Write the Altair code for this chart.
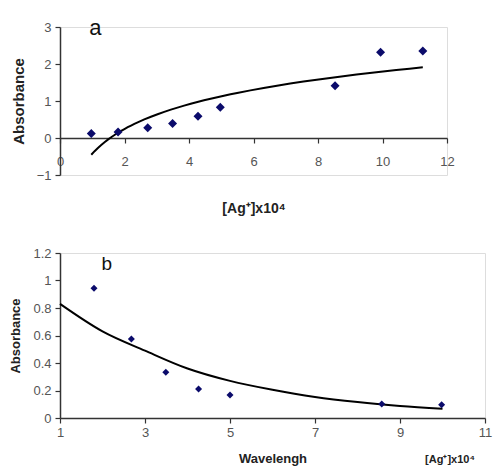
import altair as alt
import pandas as pd

# Panel a: [Ag+]x10^4 vs absorbance
a_x = [0.97, 1.8, 2.72, 3.49, 4.28, 4.97, 8.53, 9.94, 11.25]
a_y = [0.12, 0.16, 0.28, 0.39, 0.59, 0.83, 1.41, 2.32, 2.35]

# Panel b: points and exponential trend line
b_x = [1.8, 2.68, 3.49, 4.26, 5.0, 8.57, 9.98]
b_y = [0.943, 0.575, 0.333, 0.211, 0.168, 0.101, 0.097]
b_curve_x = [1, 2, 3, 4, 5, 6, 7, 8, 9, 10]
b_curve_y = [0.83, 0.63, 0.49, 0.36, 0.27, 0.205, 0.153, 0.116, 0.088, 0.067]

a_ticks_x = [0, 2, 4, 6, 8, 10, 12]
a_ticks_y = [-1, 0, 1, 2, 3]
b_ticks_x = [1, 3, 5, 7, 9, 11]
b_ticks_y = [0, 0.2, 0.4, 0.6, 0.8, 1, 1.2]

panel_labels = ["a", "b"]

FONT = "Liberation Sans"
PT = "#0b0b6b"
HA, HB = 148, 165

df_a = pd.DataFrame({"x": a_x, "y": a_y})
df_b = pd.DataFrame({"x": b_x, "y": b_y})
df_bc = pd.DataFrame({"x": b_curve_x, "y": b_curve_y})

axis_common = dict(
    grid=False, domainColor="#333333", tickColor="#333333", labelColor="#555555",
    labelFont=FONT, titleFont=FONT, titleColor="#222222", domainWidth=1.5, tickWidth=1.2,
    tickSize=5, labelFlush=False, labelOverlap=False,
)

# ---------- Panel a ----------
xa = alt.X("x:Q", scale=alt.Scale(domain=[0, 12], nice=False, zero=False),
           axis=alt.Axis(values=a_ticks_x, offset=-HA / 4, labelPadding=12, labelFontSize=13,
                         title="[Ag⁺]x10⁴", titleFontSize=14, titleFontWeight="bold",
                         titleY=70, titleBaseline="middle", **axis_common))
ya = alt.Y("y:Q", scale=alt.Scale(domain=[-1, 3], nice=False, zero=False),
           axis=alt.Axis(values=a_ticks_y, labelFontSize=13, labelPadding=4,
                         title="Absorbance", titleFontSize=15, titleFontWeight="bold",
                         titleX=-42, titleY=HA / 2, titleBaseline="middle", **axis_common))

base_a = alt.Chart(df_a)
pts_a = base_a.mark_point(shape="diamond", filled=True, size=81, color=PT, opacity=1).encode(x=xa, y=ya)
line_a = base_a.transform_regression("x", "y", method="log").mark_line(
    color="black", strokeWidth=2).encode(x=xa, y=ya)
lab_a = alt.Chart(pd.DataFrame({"t": [panel_labels[0]], "x": [1.1], "y": [2.97]})).mark_text(
    font=FONT, fontSize=22, color="#111111", baseline="middle", align="center").encode(
    x=xa, y=ya, text="t:N")
chart_a = alt.layer(line_a, pts_a, lab_a).properties(width=387, height=HA)

# ---------- Panel b ----------
xb = alt.X("x:Q", scale=alt.Scale(domain=[1, 11], nice=False, zero=False),
           axis=alt.Axis(values=b_ticks_x, labelPadding=3, labelFontSize=13,
                         title="Wavelengh", titleFontSize=13, titleFontWeight="bold",
                         titleY=40, titleBaseline="middle", **axis_common))
yb = alt.Y("y:Q", scale=alt.Scale(domain=[0, 1.2], nice=False, zero=False),
           axis=alt.Axis(values=b_ticks_y, format="~g", labelFontSize=13, labelPadding=4,
                         title="Absorbance", titleFontSize=13, titleFontWeight="bold",
                         titleX=-45, titleY=HB / 2, titleBaseline="middle", **axis_common))

pts_b = alt.Chart(df_b).mark_point(shape="diamond", filled=True, size=49, color=PT, opacity=1).encode(x=xb, y=yb)
line_b = alt.Chart(df_bc).mark_line(color="black", strokeWidth=2, interpolate="monotone").encode(x=xb, y=yb)
lab_b = alt.Chart(pd.DataFrame({"t": [panel_labels[1]], "x": [2.1], "y": [1.12]})).mark_text(
    font=FONT, fontSize=19, color="#111111", baseline="middle", align="center").encode(
    x=xb, y=yb, text="t:N")
unit_b = alt.Chart(pd.DataFrame({"t": ["[Ag⁺]x10⁴"]})).mark_text(
    font=FONT, fontSize=11, fontWeight="bold", color="#222222", baseline="middle", align="center").encode(
    x=alt.value(390), y=alt.value(HB + 42), text="t:N")
chart_b = alt.layer(line_b, pts_b, lab_b, unit_b).properties(width=425, height=HB)

chart = alt.vconcat(chart_a, chart_b, spacing=30).properties(
    padding={"left": 0, "top": 8, "right": 0, "bottom": 0}
).configure_view(stroke=None).configure(background="white")

chart.save("out.html", embed_options={"renderer": "svg", "actions": False})
